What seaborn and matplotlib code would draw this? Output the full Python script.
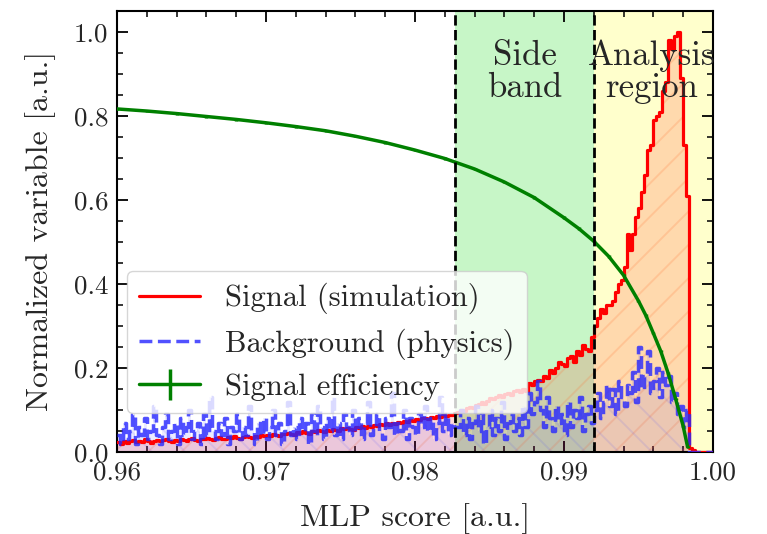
import numpy as np
import matplotlib
matplotlib.use("Agg")
import matplotlib.pyplot as plt
import seaborn as sns

# ---------------- data ----------------
bin_lo, bin_hi, n_bins = 0.96, 1.00, 200

signal = [
    0.024,0.020,0.026,0.022,0.025,0.028,0.023,0.027,0.024,0.030,0.026,0.022,0.027,0.029,0.025,0.028,0.031,0.026,0.024,0.029,
    0.027,0.031,0.028,0.025,0.030,0.033,0.029,0.027,0.032,0.030,0.034,0.031,0.028,0.033,0.036,0.032,0.030,0.035,0.033,0.037,
    0.034,0.031,0.036,0.039,0.035,0.033,0.038,0.036,0.040,0.037,0.041,0.039,0.043,0.040,0.038,0.044,0.042,0.046,0.043,0.041,
    0.047,0.045,0.049,0.046,0.044,0.050,0.048,0.052,0.049,0.047,0.053,0.051,0.055,0.052,0.050,0.056,0.054,0.058,0.055,0.053,
    0.059,0.057,0.061,0.058,0.063,0.060,0.065,0.062,0.066,0.064,0.068,0.065,0.070,0.067,0.072,0.069,0.074,0.071,0.076,0.073,
    0.078,0.075,0.080,0.082,0.079,0.084,0.081,0.086,0.083,0.088,0.085,0.089,0.087,0.092,
    0.095,0.100,0.098,0.105,0.108,0.104,0.112,0.115,0.118,0.114,0.122,0.128,0.125,0.132,0.135,0.130,0.138,0.140,0.136,0.145,
    0.148,0.143,0.150,0.146,0.165,0.160,0.168,0.172,0.170,0.180,0.176,0.195,0.188,0.200,0.215,0.210,0.205,0.225,0.228,0.215,
    0.240,0.232,0.255,0.245,0.240,0.275,
    0.300,0.320,0.340,0.330,0.350,0.350,0.360,0.380,0.400,0.410,0.440,0.520,0.480,0.520,0.560,0.580,0.620,0.660,0.720,0.730,
    0.790,0.800,0.810,0.860,0.880,0.980,0.960,0.990,1.000,0.890,0.730,0.610,0.010,0.004,0.0,0.0,0.0,0.0,0.0,0.0,
]

background = [
    0.04,0.02,0.07,0.03,0.05,0.09,0.02,0.06,0.04,0.08,0.03,0.05,0.11,0.04,0.02,0.06,0.09,0.03,0.05,0.07,
    0.02,0.08,0.04,0.06,0.10,0.03,0.05,0.07,0.02,0.09,0.04,0.13,0.05,0.03,0.07,0.04,0.08,0.02,0.06,0.05,
    0.09,0.03,0.06,0.04,0.11,0.05,0.02,0.07,0.04,0.08,0.03,0.06,0.10,0.04,0.07,0.02,0.05,0.12,0.04,0.06,
    0.03,0.08,0.05,0.07,0.02,0.09,0.04,0.11,0.06,0.03,0.08,0.05,0.13,0.04,0.07,0.03,0.09,0.06,0.04,0.10,
    0.05,0.08,0.03,0.07,0.12,0.04,0.06,0.09,0.05,0.03,0.08,0.06,0.14,0.04,0.07,0.05,0.10,0.03,0.08,0.06,
    0.04,0.09,0.06,0.11,0.05,0.08,0.03,0.07,0.13,0.05,0.09,0.04,0.07,0.06,
    0.06,0.10,0.04,0.08,0.03,0.07,0.11,0.05,0.09,0.02,0.06,0.10,0.04,0.08,0.05,0.12,0.03,0.07,0.09,0.05,
    0.08,0.04,0.11,0.06,0.14,0.09,0.12,0.17,0.10,0.06,0.13,0.08,0.05,0.11,0.07,0.09,0.04,0.12,0.06,0.10,
    0.08,0.13,0.05,0.09,0.11,0.07,
    0.10,0.14,0.08,0.12,0.16,0.11,0.15,0.09,0.17,0.13,0.11,0.16,0.14,0.19,0.12,0.25,0.15,0.18,0.24,0.14,
    0.17,0.20,0.13,0.19,0.16,0.18,0.12,0.14,0.09,0.11,0.06,0.10,0.0,0.0,0.0,0.0,0.0,0.0,0.0,0.0,
]

eff_x = [0.9600, 0.9620, 0.9640, 0.9660, 0.9680, 0.9700, 0.9720, 0.9740, 0.9760,
         0.9780, 0.9800, 0.9820, 0.9840, 0.9860, 0.9880, 0.9900, 0.9910, 0.9920,
         0.9930, 0.9940, 0.9950, 0.9955, 0.9960, 0.9965, 0.9970, 0.9975, 0.9980, 0.9983]
eff_y = [0.817, 0.812, 0.806, 0.799, 0.792, 0.784, 0.775, 0.765, 0.752,
         0.737, 0.719, 0.699, 0.674, 0.643, 0.606, 0.558, 0.532, 0.502,
         0.466, 0.421, 0.360, 0.325, 0.283, 0.240, 0.187, 0.126, 0.062, 0.012]
eff_err = [0.003] * len(eff_y)

sideband_lo, sideband_hi = 0.9827, 0.992
analysis_hi = 1.00

x_ticks = [0.96, 0.97, 0.98, 0.99, 1.00]
x_ticklabels = ["0.96", "0.97", "0.98", "0.99", "1.00"]
y_ticks = [0.0, 0.2, 0.4, 0.6, 0.8, 1.0]
y_ticklabels = ["0.0", "0.2", "0.4", "0.6", "0.8", "1.0"]

# ---------------- style ----------------
sns.set_theme(style="ticks")
plt.rcParams["font.family"] = ["cmr10", "DejaVu Serif"]
plt.rcParams["mathtext.fontset"] = "cm"
plt.rcParams["axes.formatter.use_mathtext"] = True
plt.rcParams["hatch.linewidth"] = 1.4

edges = np.linspace(bin_lo, bin_hi, n_bins + 1)
sig_step = list(signal) + [signal[-1]]
bkg_step = list(background) + [background[-1]]

fig = plt.figure(figsize=(7.67, 5.34), dpi=100)
ax = fig.add_axes([0.1525, 0.1536, 0.777, 0.8264])

# regions
ax.axvspan(sideband_lo, sideband_hi, color="lightgreen", alpha=0.5, lw=0, zorder=0)
ax.axvspan(sideband_hi, analysis_hi, color="#ffffcc", lw=0, zorder=0)

# fills
ax.stairs(signal, edges, fill=True, facecolor=(1, 0, 0, 0.15),
          edgecolor=(1.0, 0.45, 0.2, 0.2), hatch="/", lw=0, zorder=1)
ax.stairs(background, edges, fill=True, facecolor=(0, 0, 1, 0.08),
          edgecolor=(0.3, 0.3, 1.0, 0.12), hatch="\\", lw=0, zorder=1)

# outlines
sns.lineplot(x=edges, y=sig_step, drawstyle="steps-post", estimator=None, sort=False,
             color="red", linewidth=2.3, ax=ax, label="Signal (simulation)", zorder=3)
sns.lineplot(x=edges, y=bkg_step, drawstyle="steps-post", estimator=None, sort=False,
             color=(0.15, 0.15, 1.0), alpha=0.8, linewidth=2.5, linestyle="--",
             ax=ax, label="Background (physics)", zorder=4)

# efficiency
ax.errorbar(eff_x, eff_y, yerr=eff_err, color="green", lw=2.5, elinewidth=2.5,
            label="Signal efficiency", zorder=5)

# dividing lines
for xv in (sideband_lo, sideband_hi):
    ax.axvline(xv, color="black", ls="--", lw=2, zorder=6)

ax.text(0.5 * (sideband_lo + sideband_hi), 0.905, "Side\nband", ha="center", va="center",
        fontsize=25, linespacing=1.0, zorder=7)
ax.text(0.9959, 0.905, "Analysis\nregion", ha="center", va="center",
        fontsize=25, linespacing=1.0, zorder=7)

ax.set_xlim(0.96, 1.00)
ax.set_ylim(0, 1.051)
ax.set_xticks(x_ticks)
ax.set_xticklabels(x_ticklabels)
ax.set_yticks(y_ticks)
ax.set_yticklabels(y_ticklabels)
ax.set_xticks(np.arange(0.96, 1.0001, 0.002), minor=True)
ax.set_yticks(np.arange(0, 1.051, 0.05), minor=True)
ax.tick_params(which="both", direction="in", top=True, right=True, labelsize=19.5,
               color="black")
ax.tick_params(which="major", length=8, width=1.3, pad=6)
ax.tick_params(which="minor", length=4, width=1.1)
for s in ax.spines.values():
    s.set_linewidth(1.5)
    s.set_color("black")

ax.set_xlabel("MLP score [a.u.]", fontsize=23, labelpad=14)
ax.set_ylabel("Normalized variable [a.u.]", fontsize=23, labelpad=13)

leg = ax.legend(loc="lower left", bbox_to_anchor=(0.017, 0.088), borderaxespad=0,
                fontsize=22, frameon=True, fancybox=True, framealpha=0.8,
                labelspacing=0.45)
leg.get_frame().set_edgecolor("#cccccc")
leg.set_zorder(10)

fig.savefig("out.png", dpi=100)
